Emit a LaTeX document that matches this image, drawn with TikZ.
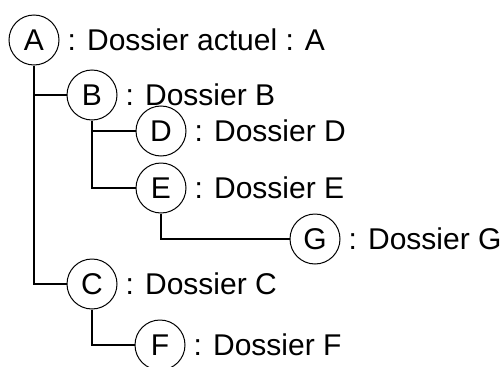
\documentclass[tikz,border=0pt]{standalone}
\usepackage{fontspec}
\setmainfont{Liberation Sans}
\begin{document}
\begin{tikzpicture}[x=1pt,y=-1pt,
  folder/.style={circle,draw,line width=1pt,minimum size=50pt,inner sep=0pt,
    font=\fontsize{30}{36}\selectfont},
  lab/.style={anchor=base west,inner sep=0pt,font=\fontsize{30}{36}\selectfont},
  link/.style={line width=1.8pt}]
\useasboundingbox (0,0) rectangle (501,367);
\node[folder] (A) at (34,40) {A};
\node[folder] (B) at (92,95) {B};
\node[folder] (D) at (161,131) {D};
\node[folder] (E) at (161,188) {E};
\node[folder] (G) at (315,239) {G};
\node[folder] (C) at (92,284) {C};
\node[folder] (F) at (160,345) {F};
\foreach \n/\t in {A/actuel : A,B/B,D/D,E/E,G/G,C/C,F/F}
  \node[lab] (t\n) at ([xshift=8pt,yshift=-10.7pt]\n.east) {: Dossier \t};
\draw[link] (A.south) |- (C.west);
\draw[link] (A.south |- B.west) -- (B.west);
\draw[link] (B.south) |- (E.west);
\draw[link] (B.south |- D.west) -- (D.west);
\draw[link] (E.south) |- (G.west);
\draw[link] (C.south) |- (F.west);
\end{tikzpicture}
\end{document}
